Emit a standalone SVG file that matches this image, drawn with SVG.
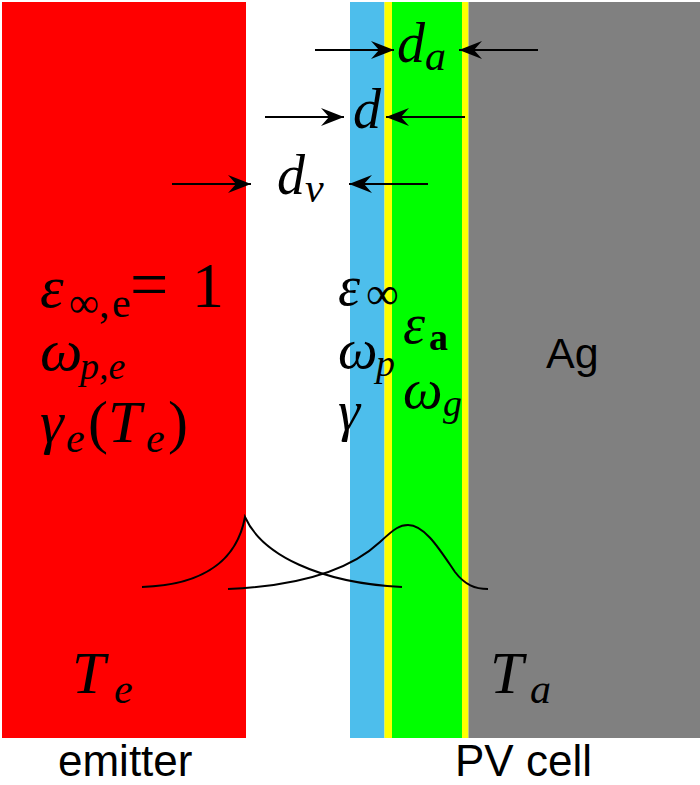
<svg xmlns="http://www.w3.org/2000/svg" width="700" height="785" viewBox="0 0 700 785">
<style>
.m{font-family:"Liberation Serif","DejaVu Serif",serif;font-style:italic;font-size:60px;fill:#000}
.d{font-size:56px}
.pv{font-size:56px}
.up{font-style:normal}
.s{font-size:42px}
.ss{font-size:38px}
.sans{font-family:"Liberation Sans",Arial,sans-serif;fill:#000}
.arr{stroke:#000;stroke-width:2;fill:none;marker-end:url(#ah)}
.curve{stroke:#000;stroke-width:2;fill:none}
</style>
<defs>
<marker id="ah" markerUnits="userSpaceOnUse" markerWidth="26" markerHeight="20" refX="24" refY="10" orient="auto" viewBox="0 0 26 20">
<path d="M24,10 L1,1 L9,10 L1,19 Z" fill="#000"/>
</marker>
</defs>
<rect width="700" height="785" fill="#fff"/>
<g id="emitter">
<rect x="2" y="2" width="244" height="736" fill="#ff0000"/>
<text class="m" x="40" y="307">ε<tspan class="s up" x="69" dy="10">∞,</tspan><tspan class="s up" x="112">e</tspan><tspan dy="-10" x="130" class="up" font-size="68">=</tspan><tspan x="192" class="up" font-size="64">1</tspan></text>
<text class="m" x="40" y="370">ω<tspan class="ss" x="80" dy="9">p,e</tspan></text>
<text class="m" x="40" y="442">γ<tspan class="s" x="66" dy="10">e</tspan><tspan dy="-10" x="88" class="up">(</tspan><tspan x="108">T</tspan><tspan class="s" x="146" dy="10">e</tspan><tspan dy="-10" x="168" class="up">)</tspan></text>
<text class="m" x="72" y="693" font-size="64">T<tspan class="s" x="114" dy="10" font-size="46">e</tspan></text>
<text class="sans" x="58" y="776" font-size="44">emitter</text>
</g>
<g id="pvcell">
<rect x="350" y="2" width="34.5" height="736" fill="#4dbeec"/>
<rect x="384.5" y="2" width="7.5" height="736" fill="#ffff00"/>
<rect x="392" y="2" width="70" height="736" fill="#00ff00"/>
<rect x="462" y="2" width="6.5" height="736" fill="#ffff00"/>
<rect x="468.5" y="2" width="231.5" height="736" fill="#808080"/>
<text class="m pv" x="338" y="305">ε<tspan class="up" font-size="46" x="366" dy="4">∞</tspan></text>
<text class="m pv" x="403" y="343">ε<tspan class="ss up" font-weight="bold" x="429" dy="7">a</tspan></text>
<text class="m pv" x="338" y="368">ω<tspan class="ss" x="376" dy="8">p</tspan></text>
<text class="m pv" x="403" y="408">ω<tspan class="ss" x="443" dy="8">g</tspan></text>
<text class="m pv" x="338" y="430">γ</text>
<text class="sans" x="546" y="368" font-size="43">Ag</text>
<text class="m" x="490" y="693" font-size="64">T<tspan class="s" x="530" dy="10" font-size="46">a</tspan></text>
<text class="sans" x="455" y="776" font-size="44">PV cell</text>
</g>
<g id="labels">
<text class="m d" x="397" y="62">d<tspan class="s" x="425" dy="8">a</tspan></text>
<text class="m d" x="353" y="128">d</text>
<text class="m d" x="277" y="194">d<tspan class="s" x="305" dy="8">v</tspan></text>
</g>
<g id="connectors">
<line class="arr" x1="315" y1="50" x2="394" y2="50"/>
<line class="arr" x1="538" y1="50" x2="459" y2="50"/>
<line class="arr" x1="265" y1="117" x2="344" y2="117"/>
<line class="arr" x1="465" y1="117" x2="386" y2="117"/>
<line class="arr" x1="172" y1="184" x2="251" y2="184"/>
<line class="arr" x1="428" y1="184" x2="349" y2="184"/>
<path class="curve" d="M142,587 C210,585 238,555 245,517 C262,555 320,583 402,587"/>
<path class="curve" d="M228,589 C300,586 350,570 380,542 C395,528 400,525 408,525 C425,525 440,550 455,572 C465,585 475,589 488,589"/>
</g>
</svg>
